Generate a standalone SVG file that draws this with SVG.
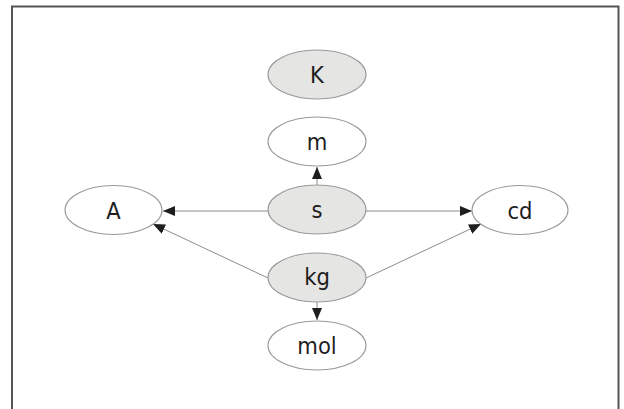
<svg xmlns="http://www.w3.org/2000/svg" width="624" height="409" viewBox="0 0 624 409">
  <style>
    .node ellipse { stroke: #9a9a9a; stroke-width: 1.1; }
    .base ellipse { fill: #e5e5e3; }
    .derived ellipse { fill: #ffffff; }
    .node text { font-family: "Liberation Sans Narrow", "DejaVu Sans Condensed", "Liberation Sans", sans-serif; font-stretch: condensed; font-size: 23.5px; fill: #1e1e1e; text-anchor: middle; }
    .edge { stroke: #8c8c8c; stroke-width: 1; fill: none; marker-end: url(#arrow); }
  </style>
  <defs>
    <marker id="arrow" viewBox="0 0 12 10" refX="12" refY="5" markerWidth="12" markerHeight="10" markerUnits="userSpaceOnUse" orient="auto">
      <path d="M0,0 L12,5 L0,10 Z" fill="#1e1e1e"/>
    </marker>
  </defs>

  <rect width="624" height="409" fill="#ffffff"/>
  <!-- frame, open past the lower edge -->
  <path d="M12,420 V6.5 H618.5 V420" fill="none" stroke="#555555" stroke-width="2"/>

  <g id="connectors">
    <line class="edge" x1="317" y1="185" x2="317" y2="167"/>
    <line class="edge" x1="268" y1="211" x2="163" y2="211"/>
    <line class="edge" x1="366" y1="211" x2="472" y2="211"/>
    <line class="edge" x1="268" y1="278" x2="153" y2="224"/>
    <line class="edge" x1="366" y1="278" x2="481" y2="224"/>
    <line class="edge" x1="317" y1="302" x2="317" y2="320"/>
  </g>

  <g id="node-K" class="node base">
    <ellipse cx="317" cy="74.5" rx="49" ry="24.5"/>
    <text x="317" y="83">K</text>
  </g>
  <g id="node-m" class="node derived">
    <ellipse cx="317" cy="141.5" rx="49" ry="24.5"/>
    <text x="317" y="150">m</text>
  </g>
  <g id="node-s" class="node base">
    <ellipse cx="317" cy="209.5" rx="49" ry="24.5"/>
    <text x="317" y="218">s</text>
  </g>
  <g id="node-A" class="node derived">
    <ellipse cx="113.5" cy="210" rx="48.5" ry="24.5"/>
    <text x="113.5" y="218.5">A</text>
  </g>
  <g id="node-cd" class="node derived">
    <ellipse cx="520" cy="210" rx="48" ry="24.5"/>
    <text x="520" y="218.5">cd</text>
  </g>
  <g id="node-kg" class="node base">
    <ellipse cx="317" cy="277.5" rx="49" ry="24.5"/>
    <text x="317" y="285">kg</text>
  </g>
  <g id="node-mol" class="node derived">
    <ellipse cx="317" cy="345.5" rx="49" ry="24.5"/>
    <text x="317" y="354">mol</text>
  </g>
</svg>
